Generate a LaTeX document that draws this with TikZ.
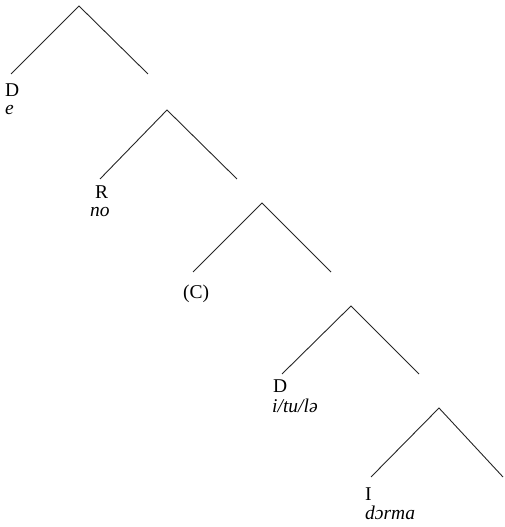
\documentclass[tikz,border=0pt]{standalone}
\usepackage{fontspec}
\setmainfont{Liberation Serif}
\usetikzlibrary{positioning}

\begin{document}
\begin{tikzpicture}[
    x=1pt, y=1pt,
    branch/.style={draw=black!85, line width=0.9pt},
    cat/.style={inner sep=0pt, anchor=base west, font=\fontsize{19.5}{22}\selectfont},
    form/.style={inner sep=0pt, anchor=base west, font=\fontsize{19.5}{22}\selectfont\itshape}
]
\useasboundingbox (0,0) rectangle (504,527);

% --- Apex and leaf points, top to bottom ---
\coordinate (top1) at (79,521);  \coordinate (lft1) at (11,453);  \coordinate (rgt1) at (148,453);
\coordinate (top2) at (167,417); \coordinate (lft2) at (100,348); \coordinate (rgt2) at (237,348);
\coordinate (top3) at (262,324); \coordinate (lft3) at (193,255); \coordinate (rgt3) at (331,255);
\coordinate (top4) at (351,221); \coordinate (lft4) at (282,153); \coordinate (rgt4) at (419,153);
\coordinate (top5) at (439,119); \coordinate (lft5) at (371,50);  \coordinate (rgt5) at (503,50);

% --- Branches ---
\foreach \i in {1,...,5}
    \draw[branch] (lft\i) -- (top\i) -- (rgt\i);

% --- Labels under the left leaves ---
\node[cat]  (dcat)  at (5,430)   {D};
\node[form] (dform) at (5,412)   {e};
\node[cat]  (rcat)  at (95,328)  {R};
\node[form] (rform) at (90,310)  {no};
\node[cat]  (ccat)  at (183,228) {(C)};
\node[cat]  (dcatb) at (273,134) {D};
\node[form] (dformb) at (272,114) {i/tu/lə};
\node[cat]  (icat)  at (365,27)  {I};
\node[form] (iform) at (365,8)   {dɔrma};

\end{tikzpicture}
\end{document}
